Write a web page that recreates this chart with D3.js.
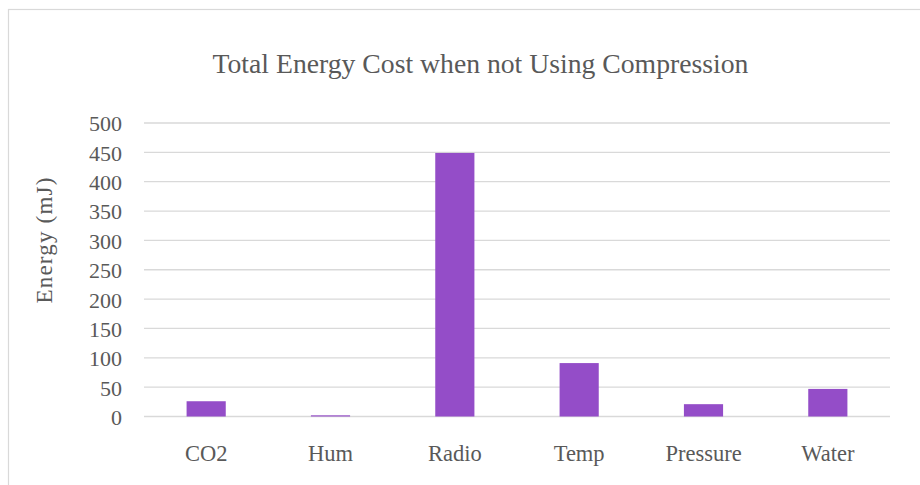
<!DOCTYPE html>
<html>
<head>
<meta charset="utf-8">
<script src="https://cdn.jsdelivr.net/npm/d3@7"></script>
</head>
<body style="margin:0;background:#ffffff">
<svg id="chart" width="920" height="485"></svg>
<script>
// Energy spent per sensor/task without compression (mJ)
const categories = ["CO2", "Hum", "Radio", "Temp", "Pressure", "Water"];
const energyValues = [26, 2, 449, 91, 21, 47];
const yTicks = [0, 50, 100, 150, 200, 250, 300, 350, 400, 450, 500];

const chartTitle = "Total Energy Cost when not Using Compression";
const yAxisTitle = "Energy (mJ)";

const FONT = "'Liberation Serif', serif";
const TEXT_COLOR = "#595959";

const svg = d3.select("#chart");
const W = 920, H = 485;
const plot = { left: 144, right: 890, top: 123, bottom: 416.5 };

// chart area frame
svg.append("rect")
  .attr("x", 8.5).attr("y", 9.5)
  .attr("width", W + 20).attr("height", H + 20)
  .attr("fill", "#ffffff")
  .attr("stroke", "#d9d9d9").attr("stroke-width", 1.2);

const x = d3.scaleBand()
  .domain(categories)
  .range([plot.left, plot.right])
  .paddingInner(0.685)
  .paddingOuter(0.3425);

const y = d3.scaleLinear()
  .domain([0, 500])
  .range([plot.bottom, plot.top]);

// horizontal gridlines
svg.append("g")
  .selectAll("line")
  .data(yTicks)
  .join("line")
  .attr("x1", plot.left).attr("x2", plot.right)
  .attr("y1", d => y(d)).attr("y2", d => y(d))
  .attr("stroke", "#d9d9d9").attr("stroke-width", 1.3);

// y axis labels
const yAxis = d3.axisLeft(y).tickValues(yTicks).tickSize(0).tickPadding(0);
const gy = svg.append("g")
  .attr("transform", "translate(122,0)")
  .call(yAxis)
  .attr("font-family", null)
  .attr("font-size", null);
gy.select(".domain").remove();
gy.selectAll("text")
  .attr("font-size", 22)
  .style("font-family", FONT)
  .attr("fill", TEXT_COLOR)
  .attr("dy", "0.36em");

// bars
svg.append("g")
  .selectAll("rect")
  .data(categories.map((c, i) => ({ c, v: energyValues[i] })))
  .join("rect")
  .attr("x", d => x(d.c))
  .attr("width", x.bandwidth())
  .attr("y", d => y(d.v))
  .attr("height", d => y(0) - y(d.v))
  .attr("fill", "#944dc8");

// category labels
const xAxis = d3.axisBottom(x).tickSize(0).tickPadding(0);
const gx = svg.append("g")
  .attr("transform", "translate(0,461)")
  .call(xAxis)
  .attr("font-family", null)
  .attr("font-size", null);
gx.select(".domain").remove();
gx.selectAll("text")
  .attr("font-size", 22.5)
  .style("font-family", FONT)
  .attr("fill", TEXT_COLOR)
  .attr("dy", 0)
  .attr("y", 0);

// title
svg.append("text")
  .attr("x", 480.5)
  .attr("y", 73)
  .attr("text-anchor", "middle")
  .attr("font-size", 27.7)
  .style("font-family", FONT)
  .attr("fill", TEXT_COLOR)
  .text(chartTitle);

// y axis title
svg.append("text")
  .attr("transform", "translate(52,240) rotate(-90)")
  .attr("text-anchor", "middle")
  .attr("font-size", 23)
  .attr("letter-spacing", 1.2)
  .style("font-family", FONT)
  .attr("fill", TEXT_COLOR)
  .text(yAxisTitle);
</script>
</body>
</html>
